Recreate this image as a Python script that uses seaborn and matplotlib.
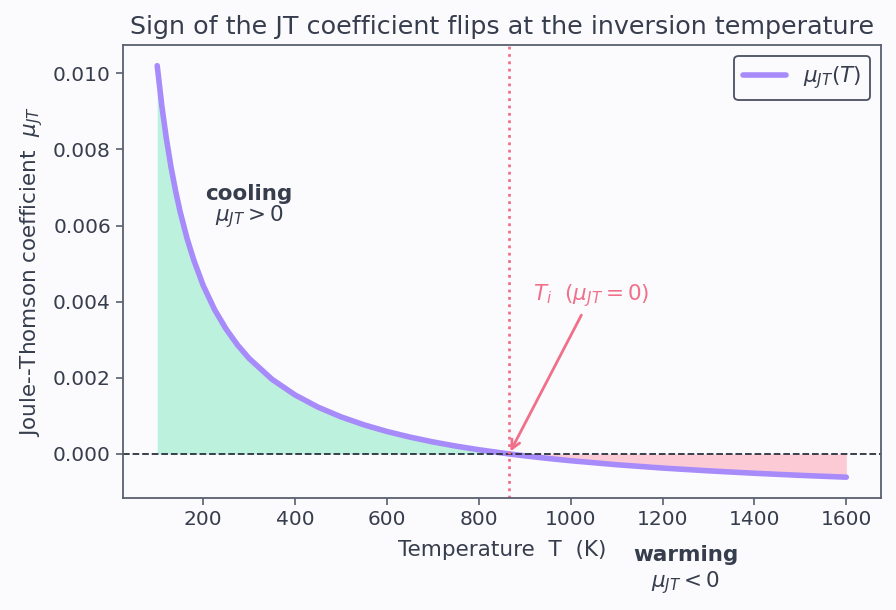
import numpy as np
import pandas as pd
import seaborn as sns
import matplotlib
matplotlib.use("Agg")
import matplotlib.pyplot as plt

# values
temps = [100, 110, 120, 130, 140, 150, 165, 180, 200, 225, 250, 275, 300, 350, 400, 450,
         500, 550, 600, 650, 700, 750, 800, 866, 900, 950, 1000, 1100, 1200, 1300, 1400, 1500, 1600]
mu_jt = [0.01020, 0.00915, 0.00828, 0.00754, 0.00691, 0.00636, 0.00566, 0.00508, 0.00443,
         0.00379, 0.00328, 0.00286, 0.00251, 0.00196, 0.00155, 0.00123, 0.000975, 0.000765,
         0.00059, 0.000443, 0.000316, 0.000206, 0.00011, 0.0, -0.00005, -0.000118, -0.000178,
         -0.000283, -0.000371, -0.000444, -0.000508, -0.000563, -0.000611]
T_inv = 866

bg = "#fbfafd"
ink = "#363d4d"
rose = "#f0708a"

sns.set_theme(style="ticks")
plt.rcParams["font.family"] = ["DejaVu Sans"]
plt.rcParams["text.color"] = ink
plt.rcParams["axes.labelcolor"] = ink
plt.rcParams["xtick.color"] = "#5a6070"
plt.rcParams["ytick.color"] = "#5a6070"
plt.rcParams["xtick.labelcolor"] = ink
plt.rcParams["ytick.labelcolor"] = ink

df = pd.DataFrame({"T": temps, "mu": mu_jt})
T = np.array(temps)
mu = np.array(mu_jt)

fig, ax = plt.subplots(figsize=(8.96, 6.1), dpi=100)
fig.patch.set_facecolor(bg)
ax.set_facecolor(bg)
fig.subplots_adjust(left=0.137, right=0.983, top=0.926, bottom=0.184)

ax.fill_between(T, mu, 0, where=mu >= 0, color="#6ee7b7", alpha=0.45, lw=0)
ax.fill_between(T, mu, 0, where=mu <= 0, color="#fda4b4", alpha=0.55, lw=0)
sns.lineplot(data=df, x="T", y="mu", ax=ax, color="#a78bfa", lw=4, label=r"$\mu_{JT}(T)$")

ax.axhline(0, color="#2b3140", ls="--", lw=1.3)
ax.axvline(T_inv, color=rose, ls=":", lw=2)

fs = 15.5
ax.annotate(r"$T_i$  $(\mu_{JT}=0)$", xy=(T_inv, 0), xytext=(1045, 0.00415),
            ha="center", va="center", fontsize=fs, color=rose,
            arrowprops=dict(arrowstyle="->", color=rose, lw=2))

ax.text(300, 0.00683, "cooling", ha="center", va="center", fontsize=fs, fontweight="bold")
ax.text(300, 0.00623, r"$\mu_{JT}>0$", ha="center", va="center", fontsize=fs)
ax.text(1250, -0.00265, "warming", ha="center", va="center", fontsize=fs,
        fontweight="bold", clip_on=False)
ax.text(1250, -0.00337, r"$\mu_{JT}<0$", ha="center", va="center", fontsize=fs, clip_on=False)

ax.set_title("Sign of the JT coefficient flips at the inversion temperature", fontsize=18.3,
             color=ink, pad=8)
ax.set_xlabel("Temperature  T  (K)", fontsize=fs, labelpad=8)
ax.set_ylabel(r"Joule--Thomson coefficient  $\mu_{JT}$", fontsize=fs, labelpad=6)
ax.tick_params(labelsize=14.5, length=5, width=1.2)
ax.set_yticks([0, 0.002, 0.004, 0.006, 0.008, 0.010])
ax.yaxis.set_major_formatter(plt.FormatStrFormatter("%.3f"))
for s in ax.spines.values():
    s.set_color("#5a6070")
    s.set_linewidth(1.3)

leg = ax.legend(loc="upper right", fontsize=fs, frameon=True, fancybox=True)
leg.get_frame().set_edgecolor("#4a5060")
leg.get_frame().set_linewidth(1.3)
leg.get_frame().set_facecolor(bg)
leg.get_frame().set_alpha(1)

fig.savefig("out.png", dpi=100, facecolor=bg)
